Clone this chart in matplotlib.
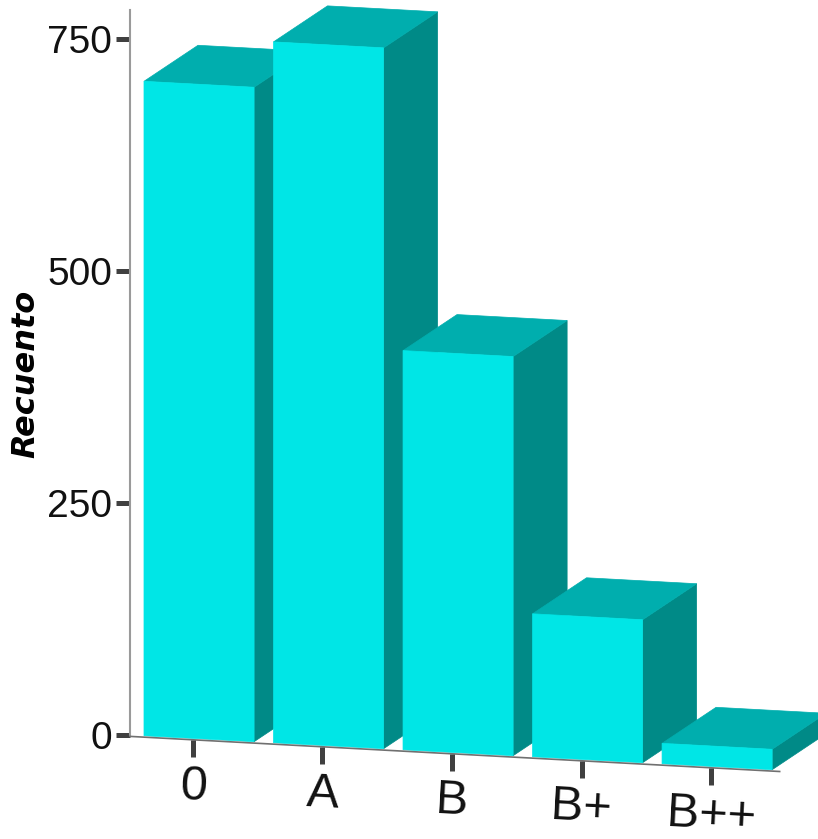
import matplotlib
matplotlib.use('Agg')
import matplotlib.pyplot as plt
from matplotlib.patches import Polygon

# data
categories = ['0', 'A', 'B', 'B+', 'B++']
counts = [705, 755, 430, 154, 22]
yticks = [0, 250, 500, 750]

FRONT = '#00e6e6'
TOP = '#00aeae'
SIDE = '#008a87'
SANS = ['Liberation Sans', 'DejaVu Sans']

fig = plt.figure(figsize=(8.18, 8.39), dpi=100)
ax = fig.add_axes([130 / 818, 104 / 839, 688 / 818, 725 / 839])
X0 = -0.486
ax.set_xlim(X0, 4.826)
ax.set_ylim(0, 781)

# fake 3D: the floor drops to the right, depth goes up and to the right
SHEAR = 7.54     # counts dropped per category step
DX, DY = 0.417, 38.8
WIDTH = 0.85
OFFSET = 0.047


def proj(x, y, d=0.0):
    return (x + d * DX, y - SHEAR * (x - X0) + d * DY)


for i, v in enumerate(counts):
    l = i + OFFSET - WIDTH / 2
    r = i + OFFSET + WIDTH / 2
    side = [proj(r, 0), proj(r, 0, 1), proj(r, v, 1), proj(r, v)]
    top = [proj(l, v), proj(l, v, 1), proj(r, v, 1), proj(r, v)]
    front = [proj(l, 0), proj(r, 0), proj(r, v), proj(l, v)]
    for pts, c in ((side, SIDE), (top, TOP), (front, FRONT)):
        ax.add_patch(Polygon(pts, closed=True, fc=c, ec=c, lw=0.5,
                             clip_on=False, zorder=3))

# slanted category axis
x_end = 4.53
ax.plot([X0, x_end], [proj(X0, 0)[1] - 1.5, proj(x_end, 0)[1] - 1.5],
        color='#707070', lw=1.2, clip_on=False, zorder=4)

for i, cat in enumerate(categories):
    yb = proj(i, 0)[1]
    ax.plot([i, i], [yb - 2, yb - 20], color='#404040', lw=3.6,
            solid_capstyle='butt', clip_on=False, zorder=4)
    ax.text(i, yb - 53, cat, ha='center', va='center', fontsize=35,
            family=SANS, color='#111111', rotation=-3, clip_on=False)

ax.set_xticks([])
ax.set_yticks(yticks)
ax.tick_params(axis='y', length=10, width=3.6, color='#404040', pad=3,
               labelsize=28, labelcolor='#111111')
for lab in ax.get_yticklabels():
    lab.set_family(SANS)

for side_name in ('top', 'right', 'bottom'):
    ax.spines[side_name].set_visible(False)
ax.spines['left'].set_color('#9a9a9a')
ax.spines['left'].set_linewidth(1.5)
ax.patch.set_alpha(0)

fig.text(26 / 818, 1 - 374 / 839, 'Recuento', rotation=90, fontsize=23,
         fontweight='bold', fontstyle='italic', ha='center', va='center')

fig.savefig('out.png', dpi=100)
